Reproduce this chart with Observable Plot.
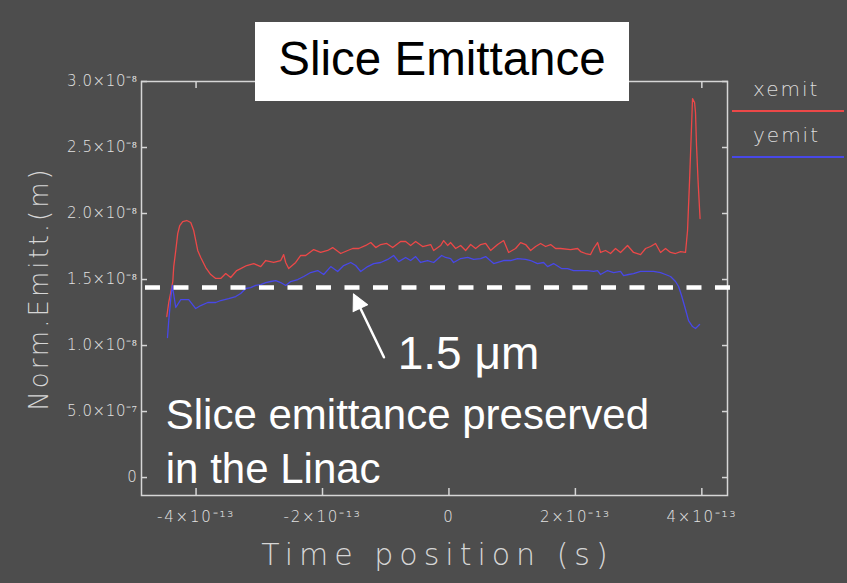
<!DOCTYPE html>
<html>
<head>
<meta charset="utf-8">
<script src="https://cdn.jsdelivr.net/npm/d3@7"></script>
<script src="https://cdn.jsdelivr.net/npm/@observablehq/plot@0.6"></script>
<style>
  html, body { margin: 0; padding: 0; background: #4d4d4d; }
  #wrap { position: relative; width: 847px; height: 583px; overflow: hidden; background: #4d4d4d; }
  #wrap svg { display: block; }
  #titlebox { position: absolute; left: 255px; top: 22px; width: 374px; height: 79px; background: #ffffff; }
  #titlebox span { position: absolute; left: 0; width: 100%; top: 13px; text-align: center; font-family: "Liberation Sans", Arial, sans-serif; font-size: 47.5px; line-height: 47px; color: #000; }
  .leg { position: absolute; left: 753px; font-family: "DejaVu Sans", sans-serif; font-weight: 200; font-size: 20px; line-height: 20px; letter-spacing: 2px; color: #dcdcdc; }
  .legline { position: absolute; left: 732px; width: 112px; height: 2px; }
  g[aria-label="x-axis tick label"] { letter-spacing: 1.8px; }
  g[aria-label="y-axis tick label"] { letter-spacing: 0.6px; }
  .axlabx { letter-spacing: 6px; }
  .axlaby { letter-spacing: 3px; }
</style>
</head>
<body>
<div id="wrap">
  <div id="chart"></div>
  <div id="titlebox"><span>Slice Emittance</span></div>
</div>
<script>
// Units: time in 1e-13 s, emittance in 1e-9 m
const xemitTime = [-4.463,-4.432,-4.400,-4.368,-4.353,-4.321,-4.290,-4.258,-4.211,-4.147,-4.084,-4.037,-4.005,-3.974,-3.926,-3.847,-3.768,-3.689,-3.610,-3.531,-3.452,-3.357,-3.294,-3.199,-3.088,-2.977,-2.898,-2.772,-2.661,-2.614,-2.582,-2.535,-2.424,-2.345,-2.266,-2.139,-2.029,-1.918,-1.839,-1.712,-1.601,-1.522,-1.427,-1.316,-1.237,-1.158,-1.079,-0.984,-0.890,-0.764,-0.685,-0.606,-0.527,-0.416,-0.289,-0.242,-0.131,-0.084,-0.021,0.027,0.106,0.185,0.264,0.343,0.422,0.502,0.580,0.659,0.770,0.865,0.944,1.054,1.133,1.213,1.292,1.371,1.450,1.529,1.608,1.687,1.766,1.924,2.035,2.082,2.161,2.240,2.288,2.351,2.398,2.477,2.556,2.635,2.714,2.825,2.920,3.031,3.110,3.189,3.268,3.347,3.426,3.505,3.584,3.663,3.742,3.774,3.806,3.829,3.853,3.885,3.900,3.916,3.940,3.972];
const xemitValue = [12.20,13.26,14.02,14.85,15.98,17.20,18.48,19.09,19.39,19.47,19.32,18.71,17.95,17.20,16.67,15.91,15.38,15.08,15.08,15.45,15.15,15.68,15.83,16.06,16.21,15.98,16.44,16.29,16.44,16.89,16.29,15.83,16.29,16.82,16.82,17.27,17.05,17.20,17.42,16.97,17.20,17.35,17.35,17.58,17.80,17.42,17.65,17.73,17.42,17.88,17.88,17.58,17.88,17.50,17.65,17.20,17.58,17.95,17.58,17.80,17.35,17.58,17.20,17.65,17.35,17.65,17.73,17.20,17.65,17.95,17.05,17.35,17.80,17.65,17.20,17.50,17.73,17.50,17.65,17.35,17.35,17.27,17.35,17.12,16.97,16.89,17.35,17.80,17.05,17.20,16.97,17.35,17.05,17.58,17.05,16.89,17.35,17.50,17.73,17.05,17.35,17.05,16.97,17.12,17.05,18.71,22.50,25.53,28.71,28.41,27.65,25.15,22.50,19.62];
const yemitTime = [-4.452,-4.432,-4.400,-4.376,-4.321,-4.242,-4.116,-4.005,-3.926,-3.815,-3.689,-3.610,-3.484,-3.373,-3.294,-3.215,-3.136,-3.057,-2.977,-2.898,-2.819,-2.740,-2.661,-2.582,-2.503,-2.392,-2.297,-2.187,-2.076,-1.981,-1.870,-1.760,-1.665,-1.554,-1.475,-1.396,-1.285,-1.190,-1.079,-0.969,-0.874,-0.795,-0.685,-0.606,-0.527,-0.448,-0.337,-0.242,-0.115,-0.052,0.027,0.074,0.185,0.296,0.391,0.502,0.580,0.707,0.865,0.975,1.086,1.213,1.292,1.402,1.497,1.560,1.655,1.781,1.877,1.971,2.082,2.193,2.288,2.351,2.398,2.509,2.604,2.714,2.762,2.841,2.920,3.031,3.142,3.236,3.347,3.426,3.505,3.584,3.632,3.679,3.742,3.790,3.853,3.900,3.964];
const yemitValue = [10.61,11.89,13.56,14.55,12.88,13.48,13.48,12.80,13.03,13.26,13.26,13.41,13.56,13.71,13.94,14.32,14.39,14.55,14.62,14.77,14.85,14.92,14.77,14.55,14.85,15.00,15.23,15.53,15.68,15.38,15.98,15.61,16.06,16.29,16.06,15.61,15.98,16.21,16.29,16.52,16.82,16.36,16.67,16.44,16.74,16.29,16.44,16.29,16.82,16.67,16.59,16.29,16.59,16.67,16.52,16.59,16.74,16.21,16.44,16.44,16.59,16.52,16.44,16.21,16.29,15.98,16.21,15.83,15.83,15.68,15.68,15.68,15.61,15.68,15.38,15.68,15.53,15.61,15.30,15.38,15.45,15.61,15.61,15.61,15.53,15.38,15.23,14.85,14.47,13.79,12.73,11.89,11.44,11.29,11.59];

const seriesNames = ["xemit", "yemit"];
const seriesColors = ["#ec4848", "#4848e8"];

const yTicks = [0, 5, 10, 15, 20, 25, 30];
const yTickLabels = ["0", "5.0×10⁻⁷", "1.0×10⁻⁸", "1.5×10⁻⁸", "2.0×10⁻⁸", "2.5×10⁻⁸", "3.0×10⁻⁸"];
const xTicks = [-4, -2, 0, 2, 4];
const xTickLabels = ["-4×10⁻¹³", "-2×10⁻¹³", "0", "2×10⁻¹³", "4×10⁻¹³"];

// 1.5 um reference line (drawn at the picture's level) and its span
const refLevel = [14.4];
const refSpan = [-4.80, 4.56];
// arrow: tail -> tip
const arrowFrom = [-1.028, 9.11];
const arrowTo = [-1.511, 13.92];
// annotation texts
const noteText = ["1.5 μm", "Slice emittance preserved\nin the Linac"];
const noteX = [-0.811, -4.479];
const noteY = [8.26, -0.38];
const noteSize = [46, 42];

const W = 847, H = 583, mL = 141, mR = 120, mT = 81, mB = 88;
const xDomain = [-4.863, 4.406], yDomain = [-1.36, 30];
const axisColor = "#d6d6d6";

const rows = (t, v, s) => t.map((d, i) => ({t: d, v: v[i], s}));
const xRows = rows(xemitTime, xemitValue, seriesNames[0]);
const yRows = rows(yemitTime, yemitValue, seriesNames[1]);

// arrowhead orientation in screen space
const xs = d3.scaleLinear(xDomain, [mL, W - mR]);
const ys = d3.scaleLinear(yDomain, [H - mB, mT]);
const adx = xs(arrowTo[0]) - xs(arrowFrom[0]);
const ady = ys(arrowTo[1]) - ys(arrowFrom[1]);
const arrowAngle = Math.atan2(adx, -ady) * 180 / Math.PI;

const triangle = {
  draw(context, l, r) {
    context.moveTo(0, -l);
    context.lineTo(-r, 0);
    context.lineTo(r, 0);
    context.closePath();
  }
};

const tickFont = {fontSize: 15, fontWeight: 200, fontFamily: "DejaVu Sans", fill: "#e2e2e2"};

const chart = Plot.plot({
  width: W, height: H,
  marginLeft: mL, marginRight: mR, marginTop: mT, marginBottom: mB,
  style: {background: "#4d4d4d", color: axisColor, fontFamily: "DejaVu Sans", overflow: "visible"},
  x: {domain: xDomain},
  y: {domain: yDomain},
  marks: [
    Plot.frame({stroke: axisColor, strokeWidth: 1.5}),
    Plot.axisY(yTicks, {anchor: "left", tickSize: -6, tickPadding: 10, strokeWidth: 1.5, label: null,
      tickFormat: d => yTickLabels[yTicks.indexOf(d)], ...tickFont}),
    Plot.axisY(yTicks, {anchor: "right", tickSize: -6, strokeWidth: 1.5, label: null, tickFormat: () => ""}),
    Plot.axisX(xTicks, {anchor: "bottom", tickSize: -7, tickPadding: 23, strokeWidth: 1.5, label: null,
      tickFormat: d => xTickLabels[xTicks.indexOf(d)], ...tickFont}),
    Plot.axisX(xTicks, {anchor: "top", tickSize: -6, strokeWidth: 1.5, label: null, tickFormat: () => ""}),
    Plot.line(xRows, {x: "t", y: "v", stroke: seriesColors[0], strokeWidth: 1.3}),
    Plot.line(yRows, {x: "t", y: "v", stroke: seriesColors[1], strokeWidth: 1.3}),
    Plot.ruleY(refLevel, {x1: refSpan[0], x2: refSpan[1], stroke: "#ffffff", strokeWidth: 4.5, strokeDasharray: "15,13.5", clip: false}),
    Plot.arrow([{a: arrowFrom, b: arrowTo}], {x1: d => d.a[0], y1: d => d.a[1], x2: d => d.b[0], y2: d => d.b[1],
      stroke: "#ffffff", strokeWidth: 2.5, headLength: 0, insetEnd: 8}),
    Plot.vector([{p: arrowTo}], {x: d => d.p[0], y: d => d.p[1], length: 16, r: 8, rotate: arrowAngle,
      anchor: "end", shape: triangle, fill: "#ffffff", stroke: "#ffffff", strokeWidth: 1}),
    Plot.text(noteText.map((s, i) => ({s, x: noteX[i], y: noteY[i], f: noteSize[i]})), {
      x: "x", y: "y", text: "s", fontSize: d => d.f, textAnchor: "start", lineAnchor: "bottom",
      lineHeight: 1.286, fill: "#ffffff", fontFamily: "Liberation Sans"}),
    Plot.text(["Norm.Emitt.(m)"], {frameAnchor: "left", textAnchor: "middle", dx: -102, rotate: -90, fontSize: 26, fontWeight: 200,
      fontFamily: "DejaVu Sans", fill: axisColor, className: "axlaby"}),
    Plot.text(["Time position (s)"], {frameAnchor: "bottom", textAnchor: "middle", dx: 3, dy: 69, fontSize: 30, fontWeight: 200,
      fontFamily: "DejaVu Sans", fill: axisColor, className: "axlabx"})
  ]
});
document.getElementById("chart").appendChild(chart);

// legend (right margin)
const wrap = document.getElementById("wrap");
const legTops = [79, 125], lineTops = [110, 156];
seriesNames.forEach((name, i) => {
  const t = document.createElement("div");
  t.className = "leg"; t.style.top = legTops[i] + "px"; t.textContent = name;
  wrap.appendChild(t);
  const l = document.createElement("div");
  l.className = "legline"; l.style.top = lineTops[i] + "px"; l.style.background = seriesColors[i];
  wrap.appendChild(l);
});
</script>
</body>
</html>
